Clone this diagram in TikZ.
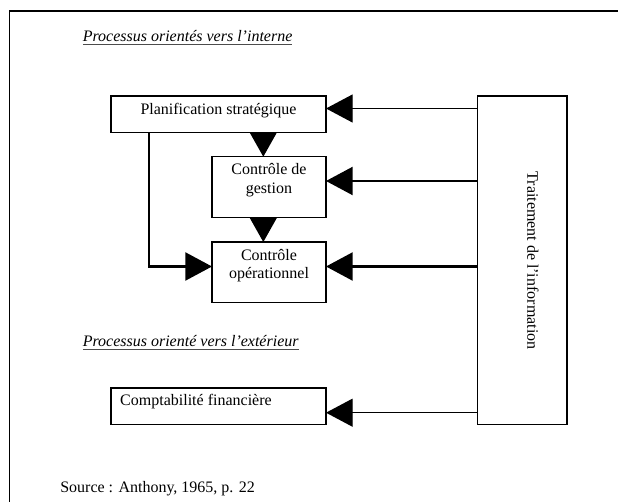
\documentclass[tikz,border=0pt]{standalone}
\usepackage{fontspec}
\setmainfont{Liberation Serif}
\usetikzlibrary{arrows.meta,calc}
\begin{document}
\begin{tikzpicture}[x=0.75pt,y=-0.75pt,
  boxst/.style={draw,line width=1pt,inner sep=0pt,outer sep=0pt},
  txt/.style={inner sep=0pt,outer sep=0pt,font=\fontsize{12pt}{14pt}\selectfont},
  harr/.style={-{Triangle[length=20pt,width=21pt]}},
  varr/.style={-{Triangle[length=18pt,width=20pt]}}]
\useasboundingbox (0,0) rectangle (618,502);
% outer frame
\draw[line width=1.2pt] (9.5,502) -- (9.5,11) -- (618,11);
% boxes
\node[boxst,minimum width=161.25pt,minimum height=27.4pt] (plan) at (218.5,114.25) {};
\node[boxst,minimum width=85.5pt,minimum height=45.8pt] (gest) at (269,187.25) {};
\node[boxst,minimum width=85.5pt,minimum height=45.5pt] (oper) at (269,272.35) {};
\node[boxst,minimum width=161.25pt,minimum height=27.2pt] (compta) at (218.5,406.15) {};
\node[boxst,minimum width=67pt,minimum height=246.4pt] (trait) at (522.35,260.25) {};
% texts
\node[txt,anchor=base west] (t1) at (82.8,41.3) {\itshape Processus orientés vers l’interne};
\node[txt,anchor=base west] (t2) at (82.8,347) {\itshape Processus orienté vers l’extérieur};
\draw[line width=0.6pt,black!70] ([yshift=-2pt]t1.base west) -- ([yshift=-2pt]t1.base east);
\draw[line width=0.6pt,black!70] ([yshift=-2pt]t2.base west) -- ([yshift=-2pt]t2.base east);
\node[txt,anchor=base] (tplan) at (218.5,114.5) {Planification stratégique};
\node[txt,anchor=base] (tgest1) at (269,175) {Contrôle de};
\node[txt,anchor=base] (tgest2) at (269,194) {gestion};
\node[txt,anchor=base] (toper1) at (269,260.7) {Contrôle};
\node[txt,anchor=base] (toper2) at (269,279) {opérationnel};
\node[txt,anchor=base west] (tcompta) at (120.2,405.7) {Comptabilité financière};
\node[txt,rotate=-90] (ttrait) at (533,260.5) {Traitement de l’information};
\node[txt,anchor=base west] (src) at (60.3,492) {Source : Anthony, 1965, p. 22};
% connector helper coordinates
\coordinate (y1) at (0,108.5);
\coordinate (y2) at (0,181);
\coordinate (y3) at (0,266.5);
\coordinate (y4) at (0,412.7);
\coordinate (vx) at (263.3,0);
\coordinate (lx) at (149.3,0);
% connectors
\draw[harr,line width=1pt] (trait.west |- y1) -- (plan.east |- y1);
\draw[harr,line width=1.6pt] (trait.west |- y2) -- (gest.east |- y2);
\draw[harr,line width=1.7pt] (trait.west |- y3) -- (oper.east |- y3);
\draw[harr,line width=1pt] (trait.west |- y4) -- (compta.east |- y4);
\draw[varr,line width=1pt] (vx |- plan.south) -- (vx |- gest.north);
\draw[varr,line width=1pt] (vx |- gest.south) -- (vx |- oper.north);
\draw[harr,line width=1.7pt] (lx |- plan.south) |- (oper.west |- y3);
\end{tikzpicture}
\end{document}
